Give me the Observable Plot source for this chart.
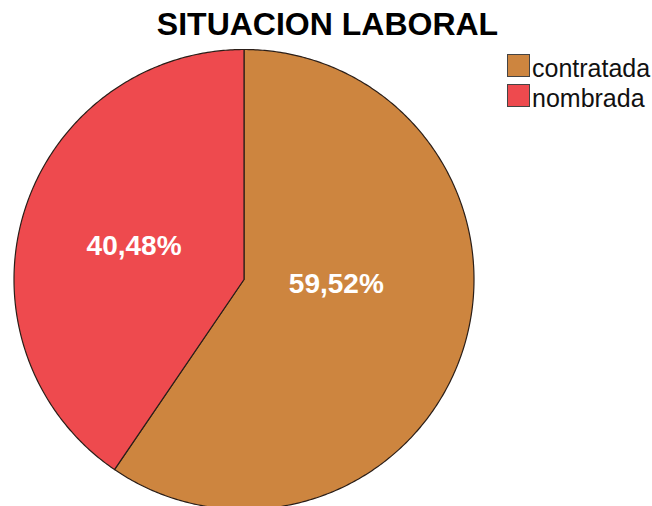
<!DOCTYPE html>
<html><head><meta charset="utf-8">
<script src="https://cdn.jsdelivr.net/npm/d3@7"></script>
<script src="https://cdn.jsdelivr.net/npm/@observablehq/plot@0.6"></script>
<style>
body{margin:0;background:#fff;font-family:"Liberation Sans",Arial,sans-serif;}
#wrap{position:relative;width:652px;height:506px;overflow:hidden;}
#legend{position:absolute;left:507px;top:54px;}
.item{position:relative;height:30px;width:145px;}
.sw{position:absolute;left:0;top:0;width:21px;height:21px;border:1px solid #444;}
.tx{position:absolute;left:25px;top:2px;font-size:25px;line-height:25px;color:#111;white-space:nowrap;}
</style>
</head><body><div id="wrap"></div>
<script>
const title = "SITUACION LABORAL";
const categories = ["contratada", "nombrada"];
const percents = [59.52, 40.48];
const labels = ["59,52%", "40,48%"];
const colors = ["#CD853F", "#EE4A4E"];

const W = 652, H = 506, CX = 243.5, CY = 279, R = 230;
const pie = d3.pie().sort(null).value(d => d.value)(categories.map((c, i) => ({cat: c, value: percents[i], label: labels[i]})));

const slices = pie.map(p => {
  const pts = [{cat: p.data.cat, x: 0, y: 0}];
  const n = Math.max(2, Math.ceil((p.endAngle - p.startAngle) / 0.01));
  for (let k = 0; k <= n; k++) {
    const a = p.startAngle + (p.endAngle - p.startAngle) * k / n;
    pts.push({cat: p.data.cat, x: Math.sin(a), y: -Math.cos(a)});
  }
  return pts;
});
const labelFrac = [0.42, 0.5];
const labelDy = [-24, 0];
const labelPts = pie.map((p, i) => {
  const a = (p.startAngle + p.endAngle) / 2;
  return {label: p.data.label, x: labelFrac[i] * Math.sin(a), y: -labelFrac[i] * Math.cos(a)};
});

const chart = Plot.plot({
  width: W, height: H, margin: 0,
  x: {domain: [-CX / R, (W - CX) / R], range: [0, W], axis: null},
  y: {domain: [-CY / R, (H - CY) / R], range: [0, H], axis: null},
  style: {fontFamily: "'Liberation Sans', Arial, sans-serif", background: "transparent"},
  marks: [
    ...slices.map((pts, i) => Plot.line(pts, {x: "x", y: "y", fill: colors[i], stroke: "#2a1e18", strokeWidth: 1.2, curve: "linear-closed"})),
    ...labelPts.map((lp, i) => Plot.text([lp], {x: "x", y: "y", text: "label", fill: "white", fontSize: 28, fontWeight: "bold", dy: labelDy[i]})),
    Plot.text([title], {frameAnchor: "top", dy: 12, dx: 1, text: d => d, fontSize: 32, fontWeight: "bold", fill: "#000"})
  ]
});
const wrap = document.getElementById("wrap");
wrap.appendChild(chart);
const legend = document.createElement("div");
legend.id = "legend";
categories.forEach((c, i) => {
  const it = document.createElement("div");
  it.className = "item";
  it.innerHTML = `<span class="sw" style="background:${colors[i]}"></span><span class="tx">${c}</span>`;
  legend.appendChild(it);
});
wrap.appendChild(legend);
</script>
</body></html>
